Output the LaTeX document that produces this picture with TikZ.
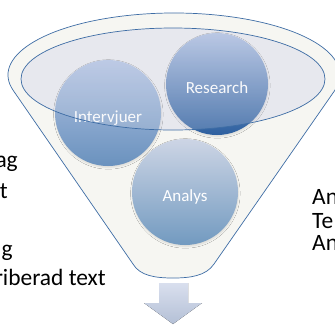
\documentclass[tikz,border=0pt]{standalone}
\usepackage{fontspec}
\setmainfont{Carlito}
\usetikzlibrary{shadows.blur}

\definecolor{rim}{HTML}{3E6DA5}
\definecolor{funnelfill}{HTML}{F6F6F2}
\definecolor{topfill}{HTML}{E7E8EE}
\definecolor{arrowtop}{HTML}{D9DFEE}
\definecolor{arrowbot}{HTML}{B4C0D6}
\definecolor{intervjuertop}{HTML}{B3C3E3}
\definecolor{intervjuerbot}{HTML}{6A92BE}
\definecolor{researchtop}{HTML}{AFC0E2}
\definecolor{researchbot}{HTML}{2D5F9F}
\definecolor{analystop}{HTML}{CDD5E5}
\definecolor{analysbot}{HTML}{729AC0}

\newcommand{\balltext}[1]{\raisebox{-3pt}[0.7em][0pt]{#1}}

\tikzset{
  ball/.style={circle, minimum size=3.18cm, inner sep=0pt, text=white,
    font=\fontsize{14.5}{16}\selectfont,
    blur shadow={shadow xshift=0.3pt, shadow yshift=-1.2pt, shadow opacity=12,
      shadow blur radius=1.5pt, shadow blur steps=5}},
  side/.style={font=\fontsize{20}{23}\selectfont, inner sep=0pt}
}

\begin{document}
\begin{tikzpicture}[x=0.03cm,y=-0.03cm]
	\useasboundingbox (0,0) rectangle (335,325);
	\clip (0,0) rectangle (335,325);
	% funnel body
	\filldraw[fill=funnelfill, draw=rim, line width=0.6pt] (174,75) ++(165:166 and 62)
		arc[start angle=165, end angle=375, x radius=166, y radius=62]
		-- (214,264) .. controls (206,276) and (190,278) .. (173,278)
		.. controls (156,278) and (140,276) .. (133,264) -- cycle;
	\fill[topfill] (173,79) ellipse [x radius=152, y radius=51];
	% circles
	\node[ball, top color=intervjuertop, bottom color=intervjuerbot] (intervjuer) at (108,113) {\balltext{Intervjuer}};
	\node[ball, minimum size=3.06cm, top color=researchtop, bottom color=researchbot] (research) at (217,84) {\balltext{Research}};
	\node[ball, top color=analystop, bottom color=analysbot] (analys) at (185,192) {\balltext{Analys}};
	% top ring over the circles
	\filldraw[fill=topfill, fill opacity=0.2, draw=rim, line width=0.6pt] (173,79) ellipse [x radius=152, y radius=51];
	% arrow
	\fill[top color=arrowtop, bottom color=arrowbot] (159,283) -- (188,283) -- (188,303) -- (202,303)
		-- (173,324) -- (144,303) -- (159,303) -- cycle;
	% cut texts
	\node[side, anchor=base east] (lefta) at (18,167) {ag};
	\node[side, anchor=base east] (leftb) at (8,198) {t};
	\node[side, anchor=base east] (leftc) at (13,256) {g};
	\node[side, anchor=base east] (leftd) at (106,285) {riberad text};
	\node[side, anchor=base west] (righta) at (312,204) {An};
	\node[side, anchor=base west] (rightb) at (312,228) {Te};
	\node[side, anchor=base west] (rightc) at (312,250) {An};
\end{tikzpicture}
\end{document}
